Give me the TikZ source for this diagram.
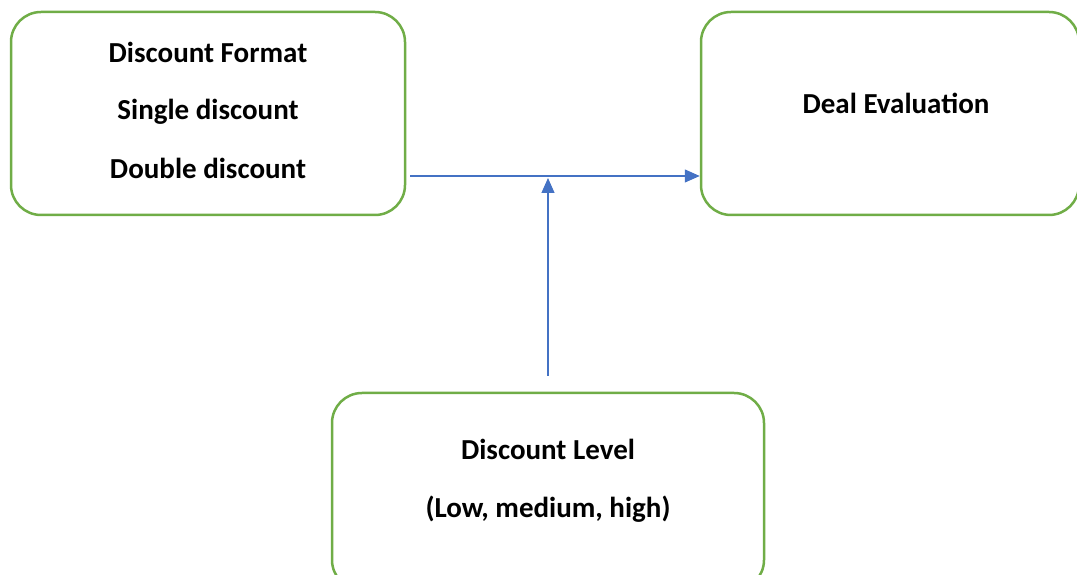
\documentclass[tikz,border=0pt]{standalone}
\usepackage{fontspec}
\setmainfont{Carlito}
\usetikzlibrary{arrows.meta}

\definecolor{boxgreen}{RGB}{112,173,71}
\definecolor{linkblue}{RGB}{68,114,196}

\tikzset{
  card/.style={draw=boxgreen, line width=2.5pt, rounded corners=30pt, fill=none},
  caption/.style={font=\fontsize{29}{34}\selectfont\bfseries},
  link/.style={draw=linkblue, line width=1.2pt, -{Triangle[length=15pt,width=13pt]}}
}

\begin{document}
\begin{tikzpicture}[x=1pt,y=1pt]
\useasboundingbox (0,0) rectangle (1077,575);
% boxes
\node[card, minimum width=394pt, minimum height=203pt] (fmt) at (208,461.5) {};
\node[card, minimum width=378pt, minimum height=203pt] (eval) at (890,461.5) {};
\node[card, minimum width=432pt, minimum height=197pt] (lvl) at (548,83.5) {};
% texts
\node[caption] (fmttitle) at (208,523) {Discount Format};
\node[caption] (fmtsingle) at (208,463) {Single discount};
\node[caption] (fmtdouble) at (208,407) {Double discount};
\node[caption] (evaltitle) at (896,472) {Deal Evaluation};
\node[caption] (lvltitle) at (548,126) {Discount Level};
\node[caption] (lvlrange) at (548,66) {(Low, medium, high)};
% connectors
\coordinate (src) at (410,399);
\coordinate (lvltop) at (548,199);
\coordinate (join) at (548,397);
\draw[link] (src) -- (eval.west |- src);
\draw[link] (lvltop) -- (join);
\end{tikzpicture}
\end{document}
